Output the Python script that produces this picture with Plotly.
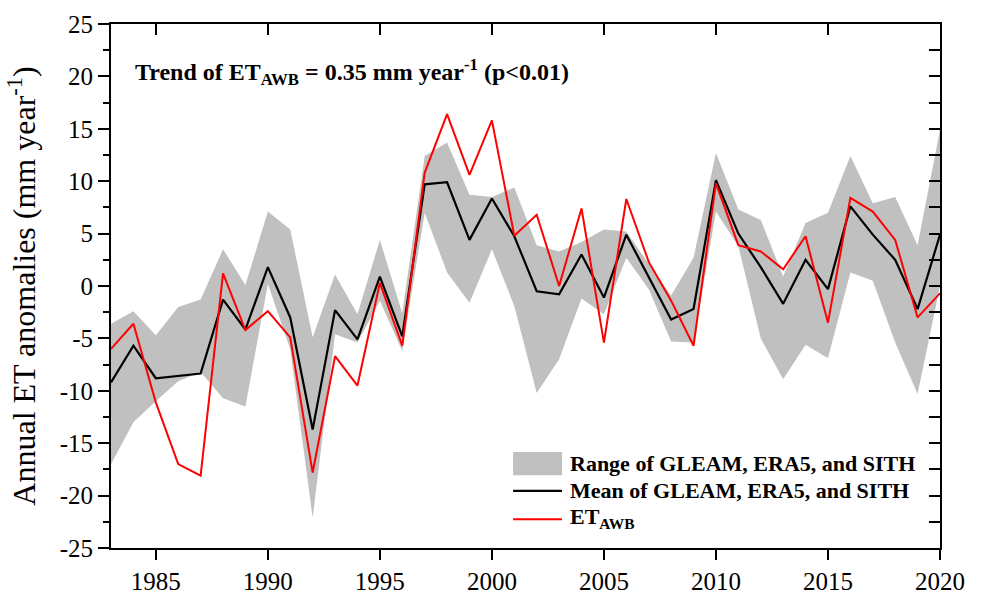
import plotly.graph_objects as go

years = list(range(1983, 2021))

mean_vals = [-9.2, -5.7, -8.8, -8.6, -8.35, -1.3, -4.15, 1.8, -3.0, -13.7,
             -2.3, -5.1, 0.9, -4.8, 9.7, 9.9, 4.4, 8.35, 4.75, -0.5,
             -0.8, 3.0, -1.1, 4.9, 0.8, -3.2, -2.2, 10.1, 5.0, 1.8,
             -1.7, 2.5, -0.3, 7.6, 4.9, 2.5, -2.2, 4.9]

awb_vals = [-6.0, -3.6, -11.1, -17.0, -18.1, 1.2, -4.2, -2.4, -4.9, -17.8,
            -6.7, -9.5, 0.3, -5.7, 10.8, 16.4, 10.6, 15.8, 4.8, 6.8,
            0.0, 7.4, -5.4, 8.3, 2.3, -1.4, -5.7, 9.8, 3.9, 3.3,
            1.6, 4.75, -3.5, 8.4, 7.1, 4.4, -3.0, -0.7]

upper_vals = [-3.6, -2.4, -4.7, -2.0, -1.3, 3.5, 0.1, 7.1, 5.4, -4.9,
              1.1, -2.7, 4.4, -2.6, 12.4, 13.7, 8.7, 8.5, 9.4, 3.9,
              3.3, 4.2, 5.4, 5.2, 2.1, -0.9, 2.7, 12.7, 7.3, 6.3,
              0.9, 6.0, 7.0, 12.4, 7.9, 8.5, 3.9, 14.9]

lower_vals = [-17.0, -13.0, -11.0, -9.1, -8.2, -10.7, -11.5, 0.2, -6.0, -22.1,
              -4.6, -5.4, -1.4, -6.2, 7.0, 1.3, -1.6, 3.5, -1.9, -10.2,
              -7.0, -1.2, -2.7, 2.7, -0.3, -5.3, -5.4, 7.1, 3.8, -5.0,
              -8.9, -5.6, -6.9, 1.3, 0.5, -5.4, -10.3, 0.0]

x_ticks = [1985, 1990, 1995, 2000, 2005, 2010, 2015, 2020]
y_ticks = [-25, -20, -15, -10, -5, 0, 5, 10, 15, 20, 25]
y_ticktext = [str(v) for v in y_ticks]

legend_labels = ["<b>Range of GLEAM, ERA5, and SITH</b>",
                 "<b>Mean of GLEAM, ERA5, and SITH</b>",
                 "<b>ET<sub>AWB</sub></b>"]

FONT = "Liberation Serif"
GRAY = "#C0C0C0"

fig = go.Figure()
fig.add_trace(go.Scatter(x=years, y=lower_vals, mode="lines",
                         line=dict(width=0, color=GRAY), showlegend=False,
                         hoverinfo="skip"))
fig.add_trace(go.Scatter(x=years, y=upper_vals, mode="lines", fill="tonexty",
                         fillcolor=GRAY, line=dict(width=0, color=GRAY),
                         name="Range of GLEAM, ERA5, and SITH", showlegend=False))
fig.add_trace(go.Scatter(x=years, y=mean_vals, mode="lines",
                         line=dict(color="black", width=2.2),
                         name="Mean of GLEAM, ERA5, and SITH", showlegend=False))
fig.add_trace(go.Scatter(x=years, y=awb_vals, mode="lines",
                         line=dict(color="#FF0000", width=2),
                         name="ET_AWB", showlegend=False))
# invisible trace so the mirrored (top/right) axes get drawn
fig.add_trace(go.Scatter(x=years, y=mean_vals, mode="lines", xaxis="x2",
                         yaxis="y2", line=dict(width=0), opacity=0,
                         showlegend=False, hoverinfo="skip"))

xr = [1983, 2020]
yr = [-25, 25]

fig.update_layout(
    width=982, height=594,
    margin=dict(l=111, r=42, t=24, b=46),
    paper_bgcolor="white", plot_bgcolor="white",
    font=dict(family=FONT, color="black"),
    xaxis=dict(range=xr, tickvals=x_ticks, ticks="outside", ticklen=10,
               tickwidth=2, tickcolor="black", showline=True, linewidth=2,
               linecolor="black", showgrid=False, zeroline=False,
               automargin=False, tickfont=dict(family=FONT, size=25)),
    yaxis=dict(range=yr, tickvals=y_ticks, ticktext=y_ticktext,
               ticks="outside", ticklen=11, tickwidth=2, tickcolor="black",
               minor=dict(dtick=2.5, ticks="outside", ticklen=6, tickwidth=2,
                          tickcolor="black", showgrid=False),
               showline=True, linewidth=2, linecolor="black", showgrid=False,
               zeroline=False, automargin=False,
               tickfont=dict(family=FONT, size=25),
               title=dict(text="Annual ET anomalies (mm year<sup>-1</sup>)",
                          font=dict(family=FONT, size=32), standoff=14)),
    xaxis2=dict(range=xr, overlaying="x", side="top", tickvals=x_ticks,
                ticks="inside", ticklen=11, tickwidth=2, tickcolor="black",
                showticklabels=False, showline=True, linewidth=2,
                linecolor="black", showgrid=False, zeroline=False,
                automargin=False),
    yaxis2=dict(range=yr, overlaying="y", side="right", tickvals=y_ticks,
                ticks="inside", ticklen=11, tickwidth=2, tickcolor="black",
                minor=dict(dtick=2.5, ticks="inside", ticklen=11, tickwidth=2,
                           tickcolor="black", showgrid=False),
                showticklabels=False, showline=True, linewidth=2,
                linecolor="black", showgrid=False, zeroline=False,
                automargin=False),
)

# annotation (trend)
fig.add_annotation(xref="paper", yref="paper", x=0.026, y=0.908,
                   xanchor="left", yanchor="middle", showarrow=False,
                   text="<b>Trend of ET<sub>AWB</sub> = 0.35 mm year<sup>-1</sup> (p&lt;0.01)</b>",
                   font=dict(family=FONT, size=24, color="black"))

# manual legend
lx0, lx1 = 0.485, 0.544
fig.add_shape(type="rect", xref="paper", yref="paper", x0=lx0, x1=lx1,
              y0=0.139, y1=0.183, fillcolor=GRAY, line=dict(width=0))
fig.add_shape(type="line", xref="paper", yref="paper", x0=lx0, x1=lx1,
              y0=0.109, y1=0.109, line=dict(color="black", width=2.2))
fig.add_shape(type="line", xref="paper", yref="paper", x0=lx0, x1=lx1,
              y0=0.055, y1=0.055, line=dict(color="#FF0000", width=2))
for lab, yy in zip(legend_labels, [0.162, 0.109, 0.057]):
    fig.add_annotation(xref="paper", yref="paper", x=0.551, y=yy,
                       xanchor="left", yanchor="middle", showarrow=False,
                       text=lab, font=dict(family=FONT, size=22, color="black"))

fig.write_html("out.html")
